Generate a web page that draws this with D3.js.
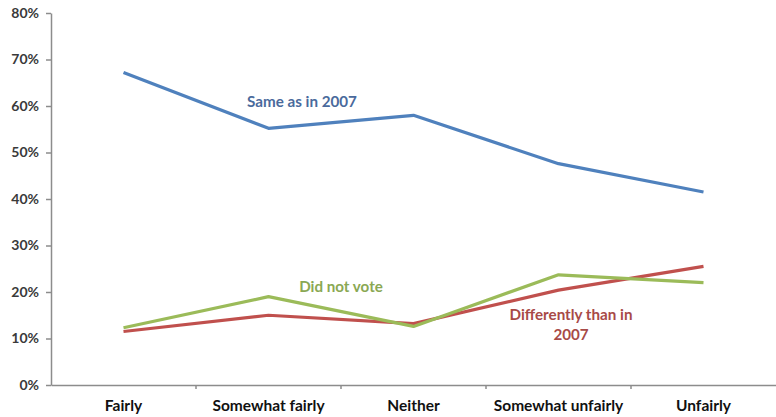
<!DOCTYPE html>
<html><head><meta charset="utf-8">
<script src="https://cdn.jsdelivr.net/npm/d3@7"></script>
<style>body{margin:0;background:#fff}svg{display:block}</style>
</head><body><svg id="c" width="776" height="417"></svg>
<script>
const categories = ["Fairly","Somewhat fairly","Neither","Somewhat unfairly","Unfairly"];
const sameAs2007 = [67.2, 55.2, 58.0, 47.6, 41.5];
const differently = [11.5, 15.0, 13.2, 20.4, 25.5];
const didNotVote = [12.3, 19.0, 12.6, 23.7, 22.0];
const yTicks = [0,10,20,30,40,50,60,70,80];
const seriesNames = ["Same as in 2007","Differently than in 2007","Did not vote"];
const seriesColors = ["#4f81bd","#c0504d","#9bbb59"];

const svg = d3.select("#c");
const font = "Lato, 'Open Sans', sans-serif";
const x = d3.scaleBand().domain(categories).range([51, 776]);
const y = d3.scaleLinear().domain([0, 80]).range([385, 13]);

// y axis
const ya = svg.append("g").attr("transform","translate(51,0)")
  .call(d3.axisLeft(y).tickValues(yTicks).tickFormat(d => d + "%").tickSize(5).tickSizeOuter(0));
ya.select(".domain").attr("stroke","#8c8c8c").attr("stroke-width",1.5);
ya.selectAll(".tick line").attr("stroke","#8c8c8c").attr("stroke-width",1.5);
ya.selectAll(".tick text").attr("font-family",font).attr("font-weight","bold")
  .attr("font-size",14).attr("fill","#3a3a3a").attr("x",-12);

// x axis
const xa = svg.append("g").attr("transform","translate(0,385)")
  .call(d3.axisBottom(x).tickSize(0).tickSizeOuter(0));
xa.select(".domain").attr("stroke","#8c8c8c").attr("stroke-width",1.5);
xa.selectAll(".tick text").attr("font-family",font).attr("font-weight","bold")
  .attr("font-size",15.5).attr("fill","#111").attr("dy","1.5em");
// boundary tick marks
xa.selectAll(".bnd").data(categories.slice(1)).enter().append("line")
  .attr("x1", d => x(d)).attr("x2", d => x(d)).attr("y1",0).attr("y2",4)
  .attr("stroke","#8c8c8c").attr("stroke-width",1.5);

const line = d3.line().x((d,i) => x(categories[i]) + x.bandwidth()/2).y(d => y(d));
[sameAs2007, differently, didNotVote].forEach((s, k) => {
  svg.append("path").datum(s).attr("d", line).attr("fill","none")
    .attr("stroke", seriesColors[k]).attr("stroke-width",3.2).attr("stroke-linejoin","round");
});

// series labels
function label(lines, cx, cy, color){
  const t = svg.append("text").attr("font-family",font).attr("font-weight","bold")
    .attr("font-size",15.2).attr("fill",color).attr("text-anchor","middle");
  lines.forEach((l,i) => t.append("tspan").attr("x",cx).attr("y",cy + i*20).text(l));
}
label([seriesNames[0]], 302, 107, "#4a6a9c");
label(["Differently than in","2007"], 571, 320, "#a84a47");
label([seriesNames[2]], 341, 292, "#8aa853");
</script></body></html>
